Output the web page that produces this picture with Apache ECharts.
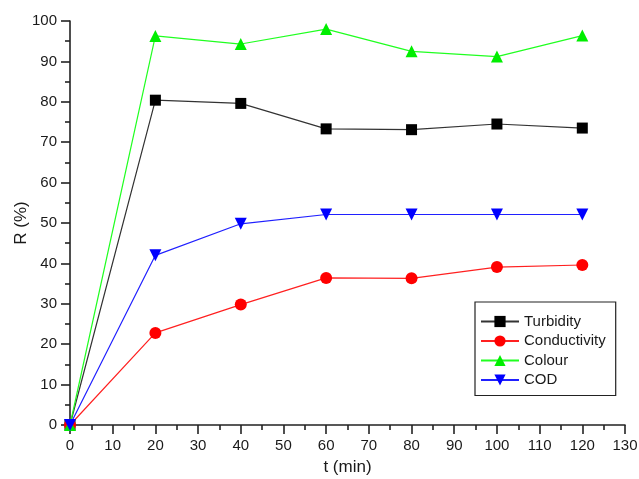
<!DOCTYPE html>
<html><head><meta charset="utf-8">
<script src="https://cdn.jsdelivr.net/npm/echarts@6/dist/echarts.min.js"></script>
<style>html,body{margin:0;padding:0;background:#fff}#c{width:639px;height:479px}</style>
</head><body><div id="c"></div>
<script>
const times = [0, 20, 40, 60, 80, 100, 120];
const turbidity = [0, 80.4, 79.6, 73.3, 73.1, 74.5, 73.5];
const conductivity = [0, 22.8, 29.8, 36.4, 36.3, 39.1, 39.6];
const colour = [0, 96.3, 94.3, 98.0, 92.5, 91.2, 96.4];
const cod = [0, 42.0, 49.8, 52.1, 52.1, 52.1, 52.1];
const seriesNames = ['Turbidity', 'Conductivity', 'Colour', 'COD'];

const pairs = arr => times.map((t, i) => [t, arr[i]]);
const font = 'Liberation Sans, Arial, sans-serif';
const txt = '#1a1a1a';
const chart = echarts.init(document.getElementById('c'));
const mk = (name, data, color, lineColor, symbol, size, rotate) => ({
  name, type: 'line', data: pairs(data), symbol, symbolSize: size, symbolRotate: rotate || 0,
  lineStyle: { color: lineColor, width: 1.2 }, itemStyle: { color }, animation: false
});
chart.setOption({
  animation: false,
  grid: { left: 70, right: 14, top: 21, bottom: 54, containLabel: false, outerBoundsMode: 'none' },
  legend: {
    orient: 'vertical', left: 475, top: 302,
    data: seriesNames,
    backgroundColor: '#fff', borderColor: '#222', borderWidth: 1.2,
    padding: [12, 10, 8, 5], itemGap: 4.5, itemWidth: 38, itemHeight: 14,
    textStyle: { fontFamily: font, fontSize: 15, color: txt }
  },
  xAxis: {
    type: 'value', min: 0, max: 130, interval: 10,
    name: 't (min)', nameLocation: 'middle', nameGap: 34, nameMoveOverlap: false,
    nameTextStyle: { fontFamily: font, fontSize: 17, color: txt },
    axisLine: { lineStyle: { color: '#222', width: 1.6 } },
    axisTick: { inside: false, length: 9, lineStyle: { color: '#222', width: 1.6 } },
    minorTick: { show: true, splitNumber: 2, length: 5, lineStyle: { color: '#222', width: 1.6 } },
    axisLabel: { fontFamily: font, fontSize: 15, color: txt, margin: 13 },
    splitLine: { show: false }
  },
  yAxis: {
    type: 'value', min: 0, max: 100, interval: 10,
    name: 'R (%)', nameLocation: 'middle', nameGap: 40, nameRotate: 90, nameMoveOverlap: false,
    nameTextStyle: { fontFamily: font, fontSize: 17, color: txt },
    axisLine: { show: true, lineStyle: { color: '#222', width: 1.6 } },
    axisTick: { show: true, inside: false, length: 9, lineStyle: { color: '#222', width: 1.6 } },
    minorTick: { show: true, splitNumber: 2, length: 5, lineStyle: { color: '#222', width: 1.6 } },
    axisLabel: { fontFamily: font, fontSize: 15, color: txt, margin: 13 },
    splitLine: { show: false }
  },
  series: [
    mk('Turbidity', turbidity, '#000000', '#333333', 'rect', 11),
    mk('Conductivity', conductivity, '#ff0000', '#ff2020', 'circle', 12),
    mk('Colour', colour, '#00ee00', '#20ff20', 'triangle', 12),
    mk('COD', cod, '#0000ff', '#2020ff', 'triangle', 12, 180)
  ]
});
</script></body></html>
